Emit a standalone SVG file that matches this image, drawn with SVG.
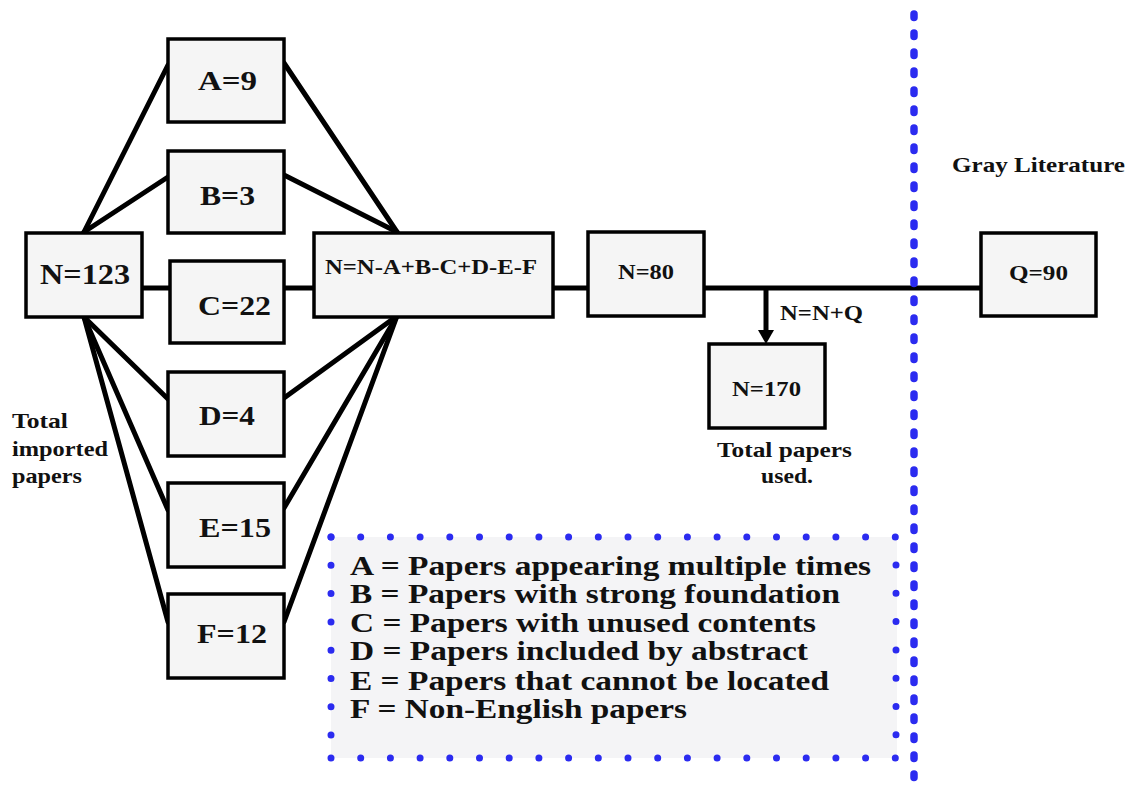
<svg xmlns="http://www.w3.org/2000/svg" width="1128" height="791" viewBox="0 0 1128 791">
<style>
.box{fill:#f5f5f5;stroke:#000;stroke-width:3.5}
.t,.lbl{font-family:"Liberation Serif","Times New Roman",serif;font-weight:bold;fill:#111}
.c{stroke:#000;stroke-width:5;fill:none;stroke-linecap:round}
.dot{stroke:#2b2bf0;stroke-linecap:round;fill:none}
</style>
<rect width="1128" height="791" fill="#fff"/>
<g id="legend-bg">
<rect x="331" y="537" width="566" height="221" fill="#f4f4f6"/>
</g>
<g id="connectors">
<line class="c" x1="84" y1="232" x2="168" y2="65"/>
<line class="c" x1="84" y1="232" x2="168" y2="177"/>
<line class="c" x1="284" y1="63" x2="397" y2="232"/>
<line class="c" x1="284" y1="175" x2="397" y2="232"/>
<line class="c" x1="142" y1="288" x2="170" y2="288"/>
<line class="c" x1="284" y1="288" x2="314" y2="288"/>
<line class="c" x1="84" y1="317" x2="168" y2="399"/>
<line class="c" x1="84" y1="317" x2="168" y2="510"/>
<line class="c" x1="84" y1="317" x2="168" y2="622"/>
<line class="c" x1="397" y1="316" x2="284" y2="398"/>
<line class="c" x1="397" y1="316" x2="284" y2="508"/>
<line class="c" x1="397" y1="316" x2="284" y2="622"/>
<line class="c" x1="553" y1="288" x2="588" y2="288"/>
<line class="c" x1="704" y1="288" x2="981" y2="288"/>
<line class="c" x1="766" y1="288" x2="766" y2="332" style="stroke-linecap:butt"/>
<path d="M758,330 L774,330 L766,344 Z" fill="#000"/>
</g>
<g id="divider">
<line class="dot" x1="914" y1="14" x2="914" y2="791" stroke-width="7.5" stroke-dasharray="3.5 15.5"/>
</g>
<g id="legend-border">
<line class="dot" x1="331" y1="537" x2="896" y2="537" stroke-width="7" stroke-dasharray="0 29.7"/>
<line class="dot" x1="331" y1="537" x2="331" y2="758" stroke-width="7" stroke-dasharray="0 28.3"/>
<line class="dot" x1="331" y1="758" x2="896" y2="758" stroke-width="7" stroke-dasharray="0 29.7"/>
<line class="dot" x1="896" y1="565" x2="896" y2="758" stroke-width="7" stroke-dasharray="0 28.3"/>
</g>
<g id="nodeN123"><rect class="box" x="26" y="233" width="116" height="84"/><text class="t" x="40" y="284" font-size="30" textLength="90" lengthAdjust="spacingAndGlyphs">N=123</text></g>
<g id="nodeA"><rect class="box" x="168" y="39" width="116" height="83"/><text class="t" x="198" y="90" font-size="27" textLength="59" lengthAdjust="spacingAndGlyphs">A=9</text></g>
<g id="nodeB"><rect class="box" x="168" y="151" width="116" height="82"/><text class="t" x="200" y="205" font-size="27" textLength="55" lengthAdjust="spacingAndGlyphs">B=3</text></g>
<g id="nodeC"><rect class="box" x="170" y="261" width="114" height="82"/><text class="t" x="198" y="315" font-size="27" textLength="73" lengthAdjust="spacingAndGlyphs">C=22</text></g>
<g id="nodeD"><rect class="box" x="168" y="372" width="116" height="84"/><text class="t" x="199" y="425" font-size="27" textLength="56" lengthAdjust="spacingAndGlyphs">D=4</text></g>
<g id="nodeE"><rect class="box" x="168" y="483" width="116" height="84"/><text class="t" x="199" y="537" font-size="27" textLength="72" lengthAdjust="spacingAndGlyphs">E=15</text></g>
<g id="nodeF"><rect class="box" x="168" y="594" width="116" height="84"/><text class="t" x="197" y="643" font-size="27" textLength="70" lengthAdjust="spacingAndGlyphs">F=12</text></g>
<g id="nodeCalc"><rect class="box" x="314" y="233" width="239" height="84"/><text class="t" x="325" y="274" font-size="22" textLength="212" lengthAdjust="spacingAndGlyphs">N=N-A+B-C+D-E-F</text></g>
<g id="nodeN80"><rect class="box" x="588" y="232" width="116" height="84"/><text class="t" x="618" y="279" font-size="21" textLength="56" lengthAdjust="spacingAndGlyphs">N=80</text></g>
<g id="nodeN170"><rect class="box" x="709" y="344" width="116" height="84"/><text class="t" x="732" y="396" font-size="22" textLength="69" lengthAdjust="spacingAndGlyphs">N=170</text></g>
<g id="nodeQ90"><rect class="box" x="981" y="233" width="115" height="83"/><text class="t" x="1009" y="280" font-size="20" textLength="59" lengthAdjust="spacingAndGlyphs">Q=90</text></g>
<g id="labels">
<text class="lbl" x="780" y="320" font-size="21" textLength="83" lengthAdjust="spacingAndGlyphs">N=N+Q</text>
<text class="lbl" x="717" y="457" font-size="21" textLength="135" lengthAdjust="spacingAndGlyphs">Total papers</text>
<text class="lbl" x="761" y="483" font-size="21" textLength="52" lengthAdjust="spacingAndGlyphs">used.</text>
<text class="lbl" x="952" y="172" font-size="22" textLength="173" lengthAdjust="spacingAndGlyphs">Gray Literature</text>
<text class="lbl" x="12" y="428" font-size="21" textLength="56" lengthAdjust="spacingAndGlyphs">Total</text>
<text class="lbl" x="12" y="456" font-size="21" textLength="96" lengthAdjust="spacingAndGlyphs">imported</text>
<text class="lbl" x="12" y="483" font-size="21" textLength="70" lengthAdjust="spacingAndGlyphs">papers</text>
</g>
<g id="legend-text" class="lbl" font-size="27">
<text x="350" y="575" textLength="521" lengthAdjust="spacingAndGlyphs">A = Papers appearing multiple times</text>
<text x="350" y="603" textLength="490" lengthAdjust="spacingAndGlyphs">B = Papers with strong foundation</text>
<text x="350" y="632" textLength="466" lengthAdjust="spacingAndGlyphs">C = Papers with unused contents</text>
<text x="350" y="660" textLength="458" lengthAdjust="spacingAndGlyphs">D = Papers included by abstract</text>
<text x="350" y="690" textLength="479" lengthAdjust="spacingAndGlyphs">E = Papers that cannot be located</text>
<text x="350" y="718" textLength="337" lengthAdjust="spacingAndGlyphs">F = Non-English papers</text>
</g>
</svg>
